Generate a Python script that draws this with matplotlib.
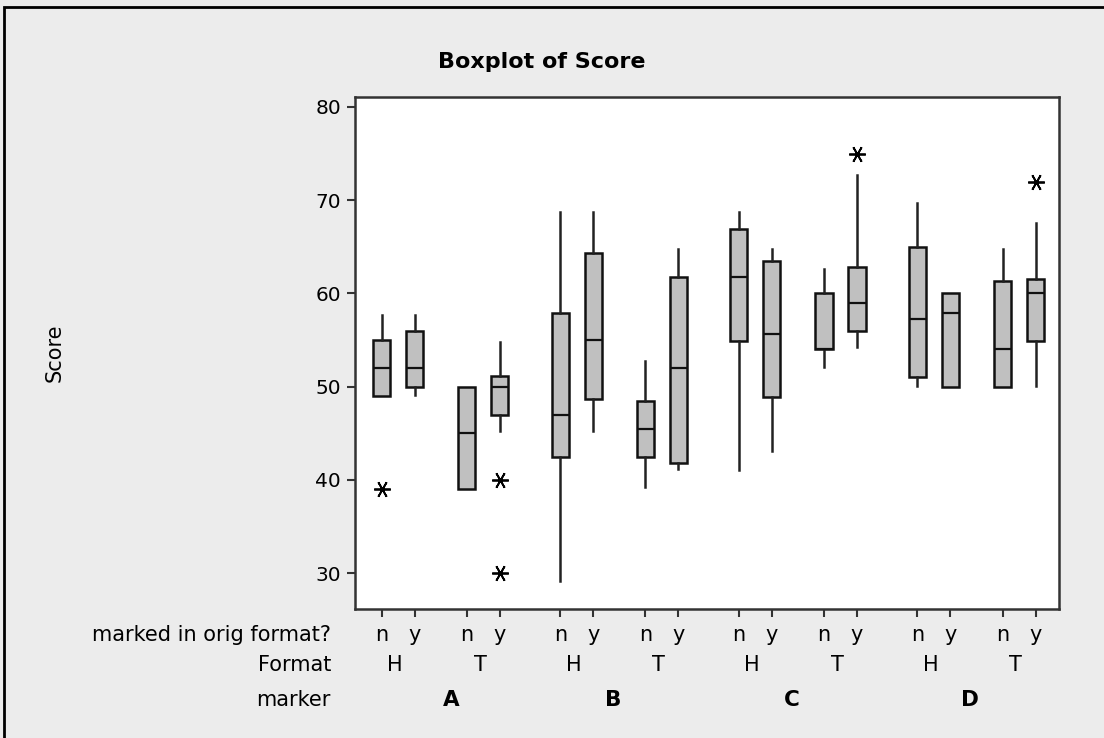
import numpy as np
import matplotlib
matplotlib.use('Agg')
from matplotlib import pyplot as plt
from matplotlib import transforms
from matplotlib.patches import Rectangle

# order: marker A..D, format H/T, marked n/y
markers = ['A', 'B', 'C', 'D']
formats = ['H', 'T']
marked = ['n', 'y']

whis_lo = [49, 49.1, 39, 45.2, 29.1, 45.2, 39.2, 41.2, 41.1, 43.1, 52.1, 54.2, 50.1, 50, 50, 50.1]
q1 = [49, 50, 39, 47, 42.5, 48.7, 42.5, 41.8, 54.9, 48.9, 54, 56, 51, 50, 50, 54.9]
med = [52, 52, 45, 50, 47, 55, 45.5, 52, 61.8, 55.6, 54, 59, 57.3, 57.9, 54, 60]
q3 = [55, 56, 50, 51.1, 57.9, 64.3, 48.5, 61.8, 66.9, 63.5, 60, 62.8, 65, 60, 61.3, 61.5]
whis_hi = [57.7, 57.7, 50, 54.8, 68.7, 68.7, 52.8, 64.8, 68.7, 64.8, 62.6, 72.7, 69.7, 60, 64.8, 67.6]
outliers = [[39], [], [], [40, 30], [], [], [], [], [], [], [], [75], [], [], [], [72]]

yticks = [30, 40, 50, 60, 70, 80]

# positions: pairs 1 apart, formats 2.58 apart, markers 5.41 apart
pos = []
for m in range(4):
    for f in range(2):
        for k in range(2):
            pos.append(m * 5.41 + f * 2.58 + k)

stats = []
for i in range(16):
    stats.append(dict(whislo=whis_lo[i], q1=q1[i], med=med[i], q3=q3[i],
                      whishi=whis_hi[i], fliers=outliers[i]))

bg = '#ececec'
fig = plt.figure(figsize=(11.04, 7.38), dpi=100, facecolor=bg)
W, H = 1104, 738
ax = fig.add_axes([355 / W, 1 - 609 / H, (1059 - 355) / W, (609 - 97) / H])
ax.set_facecolor('white')

ax.bxp(stats, positions=pos, widths=0.52, showcaps=False, patch_artist=True,
       boxprops=dict(facecolor='#c0c0c0', edgecolor='#111111', linewidth=1.8),
       medianprops=dict(color='#111111', linewidth=1.6),
       whiskerprops=dict(color='#222222', linewidth=1.8),
       flierprops=dict(marker=(6, 2, 90), markersize=12, markeredgecolor='black',
                       markeredgewidth=1.3, linestyle='none'))

ax.set_xlim(-0.81, 20.52)
ax.set_ylim(26.14, 81.07)
ax.set_yticks(yticks)
ax.set_yticklabels([str(v) for v in yticks], fontsize=14.5)
ax.set_xticks(pos)
ax.set_xticklabels([])
ax.tick_params(direction='out', length=6, width=1.5, color='#333333', pad=4)
for s in ax.spines.values():
    s.set_linewidth(1.8)
    s.set_color('#333333')

trans = transforms.blended_transform_factory(ax.transData, fig.transFigure)
for i, p in enumerate(pos):
    ax.text(p, 1 - 635 / H, marked[i % 2], transform=trans, ha='center', va='center',
            fontsize=15, clip_on=False)
for m in range(4):
    for f in range(2):
        c = m * 5.41 + f * 2.58 + 0.5
        ax.text(c - 0.1, 1 - 665 / H, formats[f], transform=trans, ha='center',
                va='center', fontsize=15, clip_on=False)
    cm = m * 5.41 + 1.79 - (0.2 if m > 0 else -0.3)
    ax.text(cm, 1 - 700 / H, markers[m], transform=trans, ha='center', va='center',
            fontsize=15.5, fontweight='bold', clip_on=False)

fig.text(331 / W, 1 - 635 / H, 'marked in orig format?', ha='right', va='center', fontsize=15)
fig.text(331 / W, 1 - 665 / H, 'Format', ha='right', va='center', fontsize=15)
fig.text(331 / W, 1 - 700 / H, 'marker', ha='right', va='center', fontsize=15)
fig.text(55 / W, 1 - 353 / H, 'Score', rotation=90, ha='center', va='center', fontsize=15)
fig.text(542 / W, 1 - 62 / H, 'Boxplot of Score', ha='center', va='center',
         fontsize=16, fontweight='bold')

# outer frame
fig.patches.append(Rectangle((4 / W, -0.05), 1.1, 1 - 7 / H + 0.05, transform=fig.transFigure,
                             fill=False, edgecolor='black', linewidth=2))

fig.savefig('out.png', dpi=100, facecolor=bg)
